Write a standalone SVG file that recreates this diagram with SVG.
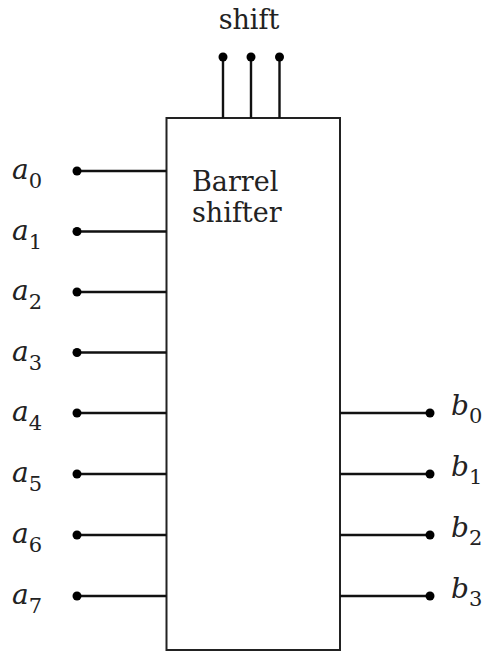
<svg xmlns="http://www.w3.org/2000/svg" width="488" height="652" viewBox="0 0 488 652">
<style>
.box{fill:#fff;stroke:#222;stroke-width:2}
.w{stroke:#111;stroke-width:2.4;fill:none}
.dot{fill:#000}
.t{font-family:"DejaVu Serif","Liberation Serif",serif;font-size:27px;fill:#222}
.v{font-family:"DejaVu Serif","Liberation Serif",serif;font-style:italic;font-size:28px;fill:#222}
.s{font-family:"DejaVu Serif","Liberation Serif",serif;font-size:21px;fill:#222}
</style>
<rect width="488" height="652" fill="#fff"/>
<g id="shifter">
<rect class="box" x="166.5" y="118" width="173.5" height="532"/>
<text class="t" x="192" y="191">Barrel</text>
<text class="t" x="192" y="222">shifter</text>
</g>
<g id="shift-label"><text class="t" x="249" y="29" text-anchor="middle">shift</text></g>
<g id="connectors">
<path class="w" d="M223 57V118M251 57V118M279.5 57V118"/>
<path class="w" d="M77 171H166.5M77 231.5H166.5M77 292H166.5M77 352.5H166.5M77 413H166.5M77 474H166.5M77 535H166.5M77 596H166.5"/>
<path class="w" d="M340 413H430M340 474H430M340 535H430M340 596H430"/>
<g class="dot">
<circle cx="223" cy="57" r="4.5"/><circle cx="251" cy="57" r="4.5"/><circle cx="279.5" cy="57" r="4.5"/>
<circle cx="77" cy="171" r="4.5"/><circle cx="77" cy="231.5" r="4.5"/><circle cx="77" cy="292" r="4.5"/><circle cx="77" cy="352.5" r="4.5"/>
<circle cx="77" cy="413" r="4.5"/><circle cx="77" cy="474" r="4.5"/><circle cx="77" cy="535" r="4.5"/><circle cx="77" cy="596" r="4.5"/>
<circle cx="430" cy="413" r="4.5"/><circle cx="430" cy="474" r="4.5"/><circle cx="430" cy="535" r="4.5"/><circle cx="430" cy="596" r="4.5"/>
</g>
</g>
<g id="a0"><text x="12" y="179"><tspan class="v">a</tspan><tspan class="s" dy="9">0</tspan></text></g>
<g id="a1"><text x="12" y="239.5"><tspan class="v">a</tspan><tspan class="s" dy="9">1</tspan></text></g>
<g id="a2"><text x="12" y="300"><tspan class="v">a</tspan><tspan class="s" dy="9">2</tspan></text></g>
<g id="a3"><text x="12" y="360.5"><tspan class="v">a</tspan><tspan class="s" dy="9">3</tspan></text></g>
<g id="a4"><text x="12" y="421"><tspan class="v">a</tspan><tspan class="s" dy="9">4</tspan></text></g>
<g id="a5"><text x="12" y="482"><tspan class="v">a</tspan><tspan class="s" dy="9">5</tspan></text></g>
<g id="a6"><text x="12" y="543"><tspan class="v">a</tspan><tspan class="s" dy="9">6</tspan></text></g>
<g id="a7"><text x="12" y="604"><tspan class="v">a</tspan><tspan class="s" dy="9">7</tspan></text></g>
<g id="b0"><text x="451" y="415"><tspan class="v">b</tspan><tspan class="s" dy="8">0</tspan></text></g>
<g id="b1"><text x="451" y="476"><tspan class="v">b</tspan><tspan class="s" dy="8">1</tspan></text></g>
<g id="b2"><text x="451" y="537"><tspan class="v">b</tspan><tspan class="s" dy="8">2</tspan></text></g>
<g id="b3"><text x="451" y="598"><tspan class="v">b</tspan><tspan class="s" dy="8">3</tspan></text></g>
</svg>
